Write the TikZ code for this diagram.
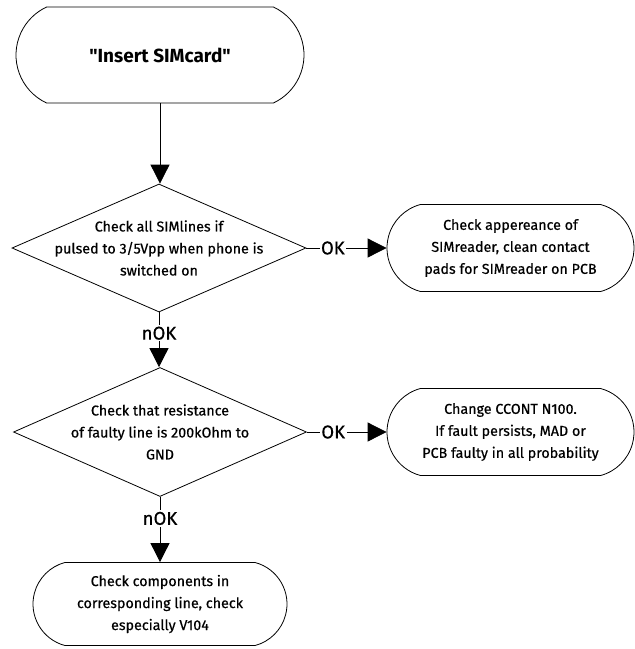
\documentclass[tikz,border=0pt]{standalone}
\usepackage{fontspec}
\setmainfont{Fira Sans}[Ligatures=TeXOff,UprightFeatures={FakeBold=0.5}]
\usetikzlibrary{shapes.geometric,shapes.misc,arrows.meta}
\newcommand{\bodyfont}{\fontsize{14.3}{22}\selectfont}
\newcommand{\flagfont}{\fontsize{18.5}{18.5}\selectfont}
\begin{document}
\begin{tikzpicture}[x=1pt,y=-1pt,line width=0.8pt,
  term/.style={draw,rounded rectangle,rounded rectangle arc length=150,
               inner sep=0pt,align=center,font=\bodyfont},
  decision/.style={draw,diamond,inner sep=0pt},
  dtext/.style={align=center,font=\bodyfont,inner sep=0pt},
  arr/.style={-{Triangle[length=19pt,width=19pt]}},
  flag/.style={fill=white,inner sep=1.5pt,font=\flagfont}]
  % page frame
  \path[fill=white] (0,0) rectangle (635,649);
  \useasboundingbox (0,0) rectangle (635,649);

  % start
  \node[term,rounded rectangle arc length=130,minimum width=288pt,minimum height=96pt,
        font=\fontsize{19}{22}\selectfont\bfseries] (start) at (160,55) {"Insert SIMcard"};

  % first decision
  \node[decision,minimum width=294pt,minimum height=128pt] (d1) at (159,248) {};
  \node[dtext] (d1t) at (d1) {Check all SIMlines if\\pulsed to 3/5Vpp when phone is\\switched on};
  \node[term,minimum width=247pt,minimum height=87pt] (okA) at (510.5,248)
       {Check appereance of\\SIMreader, clean contact\\pads for SIMreader on PCB};

  % second decision
  \node[decision,minimum width=293pt,minimum height=129pt] (d2) at (160,432) {};
  \node[dtext] (d2t) at (d2) {Check that resistance\\of faulty line is 200kOhm to\\GND};
  \node[term,minimum width=247pt,minimum height=87pt] (okB) at (510.5,432)
       {Change CCONT N100.\\If fault persists, MAD or\\PCB faulty in all probability};

  % last step
  \node[term,minimum width=254pt,minimum height=83pt] (last) at (160,604)
       {Check components in\\corresponding line, check\\especially V104};

  % connectors
  \draw[arr] (start.south) -- (start.south |- d1.north);
  \draw[arr] (d1.east) -- node[flag,pos=0.33] {OK} (okA.west);
  \draw[arr] (d1.south) -- node[flag,pos=0.38] {nOK} (d1.south |- d2.north);
  \draw[arr] (d2.east) -- node[flag,pos=0.33] {OK} (okB.west);
  \draw[arr] (d2.south) -- node[flag,pos=0.33] {nOK} (last.north);
\end{tikzpicture}
\end{document}
